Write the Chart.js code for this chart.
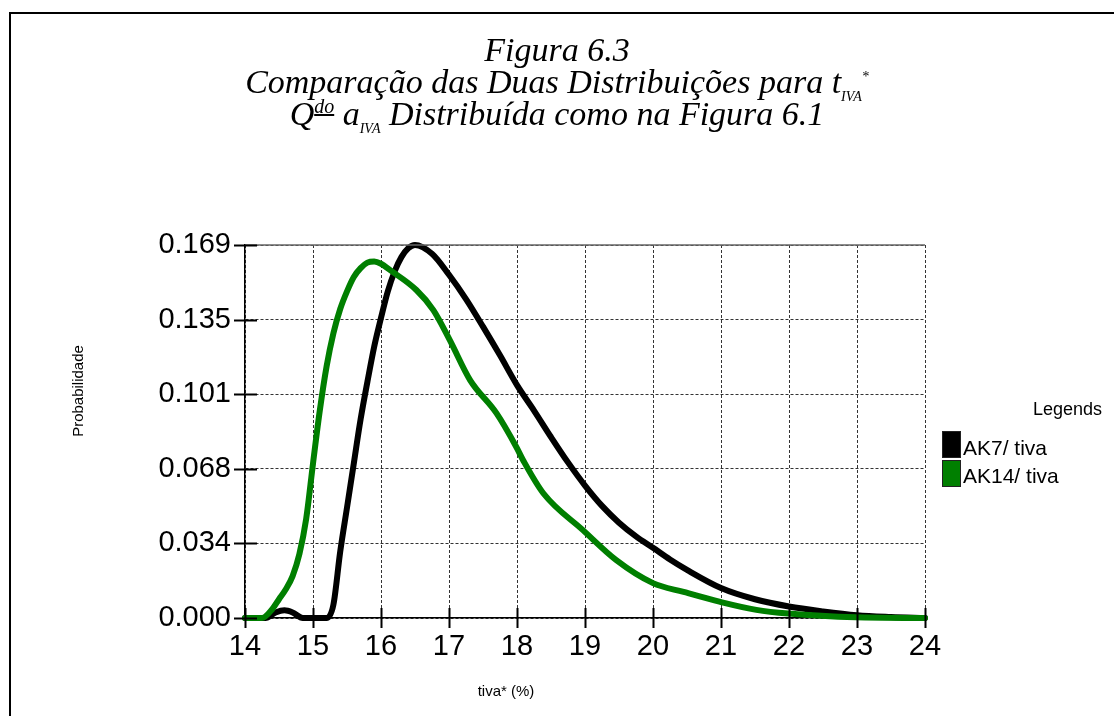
<!DOCTYPE html>
<html lang="pt">
<head>
<meta charset="UTF-8">
<title>Figura 6.3</title>
<style>
  body { margin: 0; width: 1114px; height: 716px; overflow: hidden; background: #fff; position: relative; }
  #frame { position: absolute; left: 9px; top: 12px; width: 2000px; height: 2000px; border: 2px solid #000; }
  #chartBox { position: absolute; left: 0; top: 0; width: 1114px; height: 716px; }
  .tline { position: absolute; left: 0; width: 1114px; text-align: center; font-family: "Liberation Serif", "Times New Roman", serif; font-style: italic; font-size: 34px; line-height: 34px; white-space: nowrap; }
  .tline sub, .tline sup { line-height: 0; }
  .small { font-size: 14px; font-style: italic; }
  #legend { position: absolute; left: 0; top: 0; font-family: "Liberation Sans", Arial, sans-serif; white-space: nowrap; }
  .lgTitle { position: absolute; left: 1033px; top: 399px; font-size: 18px; }
  .lgBox { position: absolute; left: 942px; width: 17px; height: 25px; border: 1px solid #222; }
  .lgText { position: absolute; left: 963px; font-size: 21px; line-height: 24px; }
</style>
</head>
<body>
<div id="frame"></div>
<div id="chartBox"><canvas id="chart" width="1114" height="716"></canvas></div>

<div class="tline" style="top: 33px;">Figura 6.3</div>
<div class="tline" style="top: 65px;">Comparação das Duas Distribuições para t<sub class="small">IVA</sub><sup class="small">*</sup></div>
<div class="tline" style="top: 97px;">Q<sup class="small" style="font-size:20px;"><u>do</u></sup> a<sub class="small">IVA</sub> Distribuída como na Figura 6.1</div>

<div id="legend">
  <div class="lgTitle">Legends</div>
  <div class="lgBox" style="top: 431px; background: #000;"></div>
  <div class="lgText" style="top: 436px;">AK7/ tiva</div>
  <div class="lgBox" style="top: 460px; background: #007f00;"></div>
  <div class="lgText" style="top: 464px;">AK14/ tiva</div>
</div>

<script src="https://cdn.jsdelivr.net/npm/chart.js"></script>
<script>
  // AK7 / tiva
  const ak7X = [14.0, 14.3, 14.45, 14.58, 14.7, 14.85, 15.0, 15.2, 15.3, 15.4, 15.5, 15.6, 15.7, 15.8, 15.9, 16.0, 16.1, 16.2, 16.3, 16.4, 16.5, 16.75, 17.0, 17.25, 17.5, 17.75, 18.0, 18.25, 18.5, 18.75, 19.0, 19.25, 19.5, 19.75, 20.0, 20.25, 20.5, 21.0, 21.5, 22.0, 22.5, 23.0, 23.5, 24.0];
  const ak7Y = [0, 0, 0.0025, 0.0035, 0.0025, 0, 0, 0, 0.006, 0.03, 0.05, 0.07, 0.09, 0.107, 0.123, 0.136, 0.148, 0.157, 0.1635, 0.1675, 0.169, 0.165, 0.1555, 0.1445, 0.132, 0.119, 0.1055, 0.094, 0.082, 0.0705, 0.06, 0.0508, 0.0432, 0.037, 0.0318, 0.0265, 0.0218, 0.0136, 0.0085, 0.0052, 0.0030, 0.0013, 0.0005, 0];
  // AK14 / tiva
  const ak14X = [14.0, 14.25, 14.4, 14.5, 14.6, 14.7, 14.8, 14.9, 15.0, 15.1, 15.2, 15.3, 15.4, 15.5, 15.6, 15.7, 15.8, 15.9, 16.0, 16.13, 16.52, 16.77, 17.01, 17.31, 17.7, 17.99, 18.09, 18.39, 18.97, 19.46, 20.0, 20.45, 20.99, 21.52, 21.99, 22.98, 24.0];
  const ak14Y = [0, 0, 0.004, 0.0085, 0.013, 0.019, 0.029, 0.045, 0.07, 0.094, 0.114, 0.129, 0.14, 0.148, 0.1545, 0.1585, 0.161, 0.1615, 0.1605, 0.1577, 0.1486, 0.1395, 0.126, 0.1078, 0.0927, 0.0775, 0.0715, 0.0564, 0.0398, 0.0262, 0.0158, 0.0118, 0.0073, 0.0037, 0.002, 0.0003, 0];

  const xTicks = [14, 15, 16, 17, 18, 19, 20, 21, 22, 23, 24];
  const yTicks = [0, 0.0338, 0.0676, 0.1014, 0.1352, 0.169];
  const yTickLabels = ['0.000', '0.034', '0.068', '0.101', '0.135', '0.169'];

  const toPoints = (xs, ys) => xs.map((x, i) => ({ x: x, y: ys[i] }));

  // crossing tick marks, solid top edge, axis titles
  const extras = {
    id: 'extras',
    afterDraw(chart) {
      const ctx = chart.ctx;
      const a = chart.chartArea;
      const xs = chart.scales.x, ys = chart.scales.y;
      ctx.save();
      ctx.strokeStyle = '#666';
      ctx.lineWidth = 1.5;
      ctx.beginPath();
      ctx.moveTo(a.left, a.top);
      ctx.lineTo(a.right, a.top);
      ctx.stroke();
      ctx.strokeStyle = '#000';
      ctx.lineWidth = 2;
      ctx.beginPath();
      yTicks.forEach(v => {
        const y = Math.round(ys.getPixelForValue(v)) + 0.5;
        ctx.moveTo(a.left - 11, y);
        ctx.lineTo(a.left + 12, y);
      });
      xTicks.forEach(v => {
        const x = Math.round(xs.getPixelForValue(v)) + 0.5;
        ctx.moveTo(x, a.bottom - 10);
        ctx.lineTo(x, a.bottom + 10);
      });
      ctx.stroke();

      ctx.fillStyle = '#000';
      ctx.font = '15px "Liberation Sans", Arial, sans-serif';
      ctx.textBaseline = 'middle';
      ctx.textAlign = 'center';
      ctx.fillText('tiva* (%)', 506, 692);
      ctx.translate(79, 391);
      ctx.rotate(-Math.PI / 2);
      ctx.fillText('Probabilidade', 0, 0);
      ctx.restore();
    }
  };

  const ctx = document.getElementById('chart').getContext('2d');
  const chart = new Chart(ctx, {
    type: 'line',
    data: {
      datasets: [
        {
          label: 'AK14/ tiva',
          data: toPoints(ak14X, ak14Y),
          borderColor: '#007f00',
          borderWidth: 6,
          pointRadius: 0,
          cubicInterpolationMode: 'monotone',
          borderCapStyle: 'round',
          borderJoinStyle: 'round',
          clip: false,
          order: 0
        },
        {
          label: 'AK7/ tiva',
          data: toPoints(ak7X, ak7Y),
          borderColor: '#000',
          borderWidth: 6,
          pointRadius: 0,
          cubicInterpolationMode: 'monotone',
          borderCapStyle: 'round',
          borderJoinStyle: 'round',
          clip: false,
          order: 1
        }
      ]
    },
    plugins: [extras],
    options: {
      responsive: false,
      animation: false,
      layout: { padding: { left: 0, right: 189, top: 245, bottom: 0 } },
      plugins: {
        legend: { display: false },
        tooltip: { enabled: false },
        title: { display: false }
      },
      scales: {
        x: {
          type: 'linear',
          min: 14,
          max: 24,
          afterFit: (scale) => { scale.height = 98; },
          afterBuildTicks: (scale) => { scale.ticks = xTicks.map(v => ({ value: v })); },
          ticks: {
            padding: 12,
            color: '#000',
            font: { family: '"Liberation Sans", Arial, sans-serif', size: 29 },
            callback: (v) => String(v)
          },
          grid: { drawTicks: false, color: '#333', lineWidth: 1 },
          border: { display: true, color: '#000', width: 1.5, dash: [3, 2] }
        },
        y: {
          min: 0,
          max: 0.169,
          afterFit: (scale) => { scale.width = 245; },
          afterBuildTicks: (scale) => { scale.ticks = yTicks.map(v => ({ value: v })); },
          ticks: {
            padding: 14,
            color: '#000',
            font: { family: '"Liberation Sans", Arial, sans-serif', size: 29 },
            callback: (v, i) => yTickLabels[i]
          },
          grid: { drawTicks: false, color: '#333', lineWidth: 1 },
          border: { display: true, color: '#000', width: 1.5, dash: [3, 2] }
        }
      }
    }
  });
</script>
</body>
</html>
